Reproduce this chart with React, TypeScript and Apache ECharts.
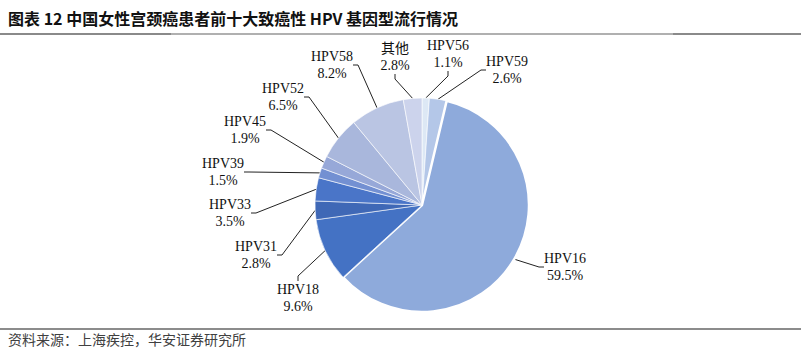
import React, { useEffect, useRef } from "react";
import * as echarts from "echarts";

const categories = ["HPV56", "HPV59", "HPV16", "HPV18", "HPV31", "HPV33", "HPV39", "HPV45", "HPV52", "HPV58", "其他"];
const shares = [1.1, 2.6, 59.5, 9.6, 2.8, 3.5, 1.5, 1.9, 6.5, 8.2, 2.8];
const sliceColors = ["#dde8f5", "#b4c7e8", "#8eaadb", "#4472c4", "#3f68b6", "#4a75c8", "#7390d2", "#97a8d8", "#a9b7dc", "#bac5e3", "#ccd3ec"];

// label block centres (text placement only)
const labelSpots: [number, number][] = [
  [448, 54], [507, 70], [565, 267], [298, 298], [256, 255], [230, 213],
  [223, 172], [245, 130], [283, 97], [332, 65], [395, 57],
];

const titleText = "图表 12 中国女性宫颈癌患者前十大致癌性 HPV 基因型流行情况";
const sourceText = "资料来源：上海疾控，华安证券研究所";

export default function App() {
  const ref = useRef<HTMLDivElement>(null);
  useEffect(() => {
    if (!ref.current) return;
    const chart = echarts.init(ref.current, null, { renderer: "svg" });
    chart.setOption({
      animation: false,
      backgroundColor: "#ffffff",
      graphic: [
        {
          type: "text",
          left: 8,
          top: 10,
          style: {
            text: titleText,
            fontFamily: "Noto Sans CJK SC, sans-serif",
            fontWeight: "bold",
            fontSize: 16,
            fill: "#111111",
          },
        },
        { type: "line", shape: { x1: 0, y1: 34, x2: 801, y2: 34 }, style: { stroke: "#b0b0b0", lineWidth: 2 } },
        { type: "line", shape: { x1: 0, y1: 34, x2: 171, y2: 34 }, style: { stroke: "#8a8a8a", lineWidth: 2 } },
        { type: "line", shape: { x1: 673, y1: 34, x2: 801, y2: 34 }, style: { stroke: "#8a8a8a", lineWidth: 2 } },
        { type: "line", shape: { x1: 0, y1: 329, x2: 801, y2: 329 }, style: { stroke: "#8c8c8c", lineWidth: 2 } },
        {
          type: "text",
          left: 8,
          top: 332,
          style: {
            text: sourceText,
            fontFamily: "Noto Sans CJK SC, serif",
            fontSize: 14,
            fill: "#404040",
          },
        },
      ],
      series: [
        {
          type: "pie",
          center: [422, 205],
          radius: [0, 107],
          startAngle: 90,
          clockwise: true,
          avoidLabelOverlap: false,
          data: categories.map((name, i) => ({
            name,
            value: shares[i],
            itemStyle: {
              color: sliceColors[i],
              borderColor: "#ffffff",
              borderWidth: name === "HPV16" ? 2.5 : 0.6,
            },
          })),
          label: {
            show: true,
            formatter: (p: any) => `${p.name}\n${Number(p.value).toFixed(1)}%`,
            fontFamily: "Liberation Serif, Noto Sans CJK SC, serif",
            fontSize: 14,
            lineHeight: 17,
            color: "#111111",
          },
          labelLine: {
            show: true,
            length: 15,
            length2: 5,
            lineStyle: { color: "#222222", width: 1 },
          },
          labelLayout: (p: any) => {
            const s = labelSpots[p.dataIndex];
            return { x: s[0], y: s[1], align: "center", verticalAlign: "middle" };
          },
        },
      ],
    });
    return () => chart.dispose();
  }, []);
  return <div ref={ref} style={{ position: "fixed", left: 0, top: 0, width: 801, height: 351 }} />;
}
